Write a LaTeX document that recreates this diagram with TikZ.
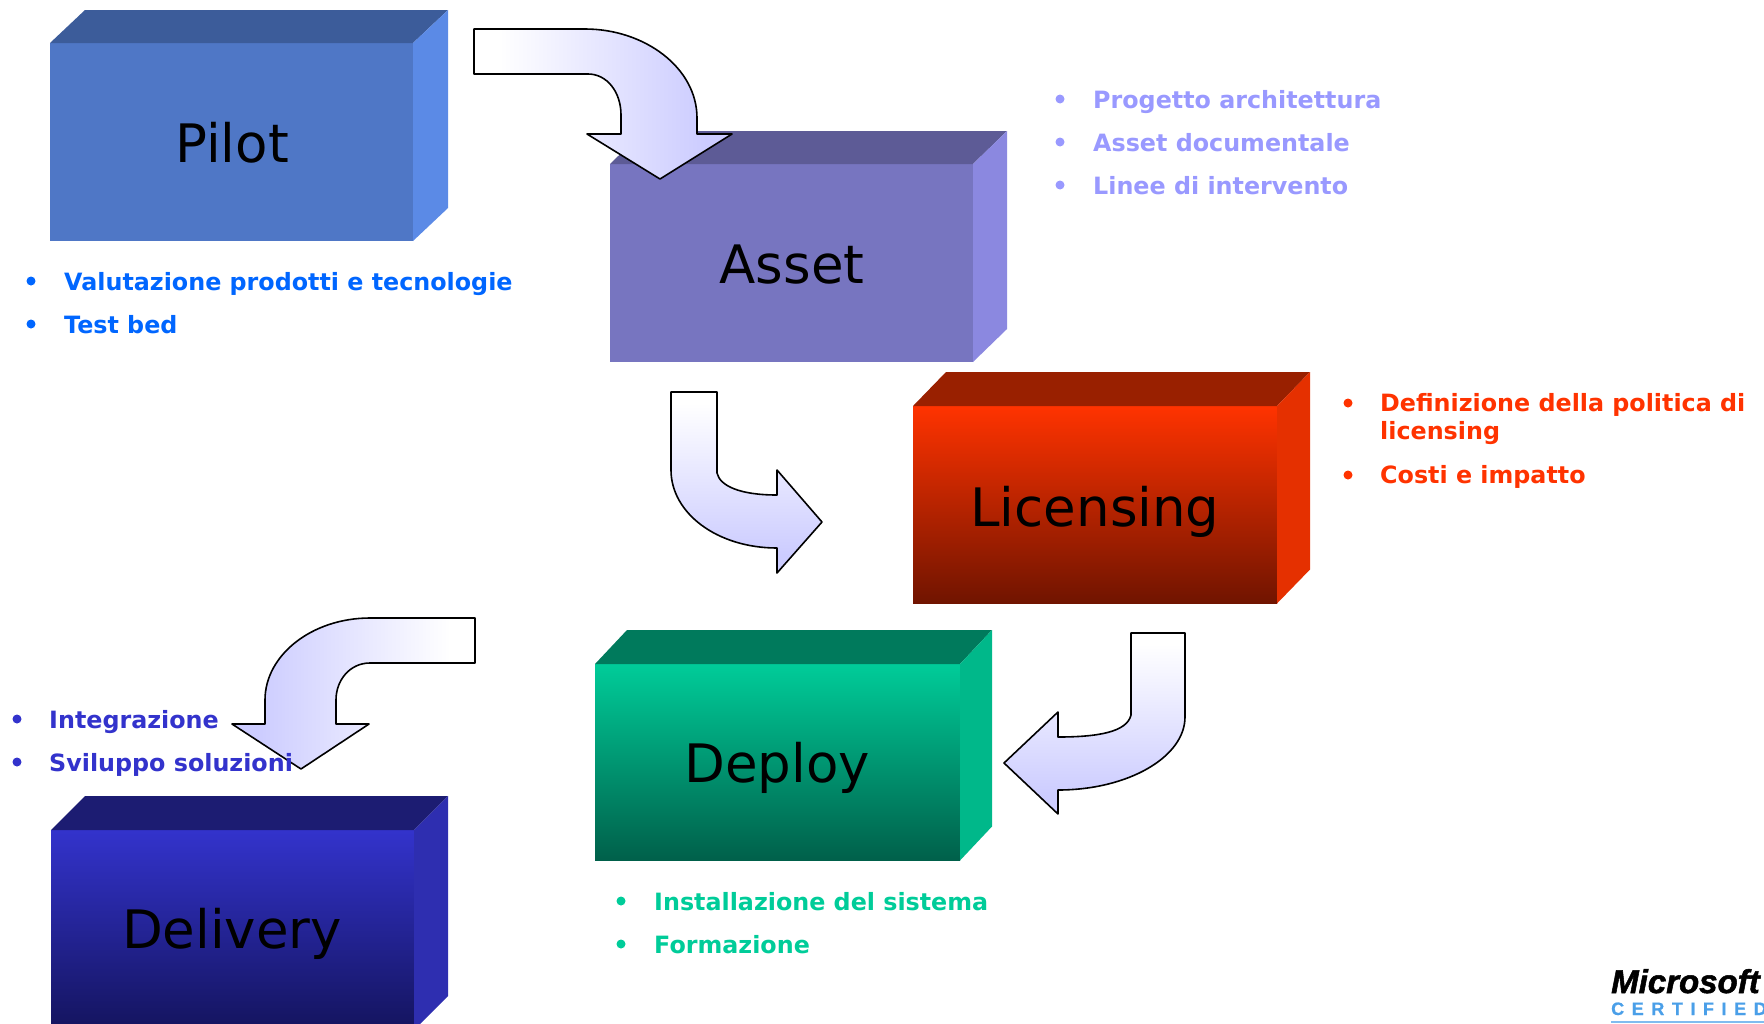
\documentclass[tikz,border=0pt]{standalone}
\usepackage{fontspec}
\setmainfont{DejaVu Sans}
\newfontfamily\logofont{Liberation Sans}
\definecolor{arrowblue}{HTML}{CCCCFF}
\definecolor{cPilot}{HTML}{4F77C6}\definecolor{cPilotT}{HTML}{3C5C9A}\definecolor{cPilotS}{HTML}{5B8AE6}
\definecolor{cAsset}{HTML}{7775C0}\definecolor{cAssetT}{HTML}{5D5B96}\definecolor{cAssetS}{HTML}{8B88E0}
\definecolor{cLicA}{HTML}{FF3300}\definecolor{cLicB}{HTML}{701400}\definecolor{cLicT}{HTML}{992000}\definecolor{cLicS}{HTML}{E53000}
\definecolor{cDepA}{HTML}{00CC99}\definecolor{cDepB}{HTML}{00604A}\definecolor{cDepT}{HTML}{007A5C}\definecolor{cDepS}{HTML}{00B88A}
\definecolor{cDelA}{HTML}{3333CC}\definecolor{cDelB}{HTML}{14145E}\definecolor{cDelT}{HTML}{1C1C72}\definecolor{cDelS}{HTML}{2E2EB0}
\definecolor{tPilot}{HTML}{0066FF}\definecolor{tAsset}{HTML}{9999FF}\definecolor{tLic}{HTML}{FF3300}\definecolor{tDep}{HTML}{00CC99}\definecolor{tDel}{HTML}{3333CC}
\definecolor{logoblue}{HTML}{4A9FE8}
\pgfdeclareverticalshading{arrowv}{100bp}{color(0bp)=(arrowblue);color(30bp)=(arrowblue);color(72bp)=(white);color(100bp)=(white)}
\pgfdeclarehorizontalshading{arrowr}{100bp}{color(0bp)=(white);color(30bp)=(white);color(70bp)=(arrowblue);color(100bp)=(arrowblue)}
\pgfdeclarehorizontalshading{arrowl}{100bp}{color(0bp)=(arrowblue);color(30bp)=(arrowblue);color(70bp)=(white);color(100bp)=(white)}
\tikzset{
  bendarrow/.style={draw=black,line width=1.6pt,line join=round},
  boxlabel/.style={font=\fontsize{53}{60}\selectfont,text=black,inner sep=0pt,anchor=base},
  item/.style={font=\bfseries\fontsize{23.8}{28}\selectfont,inner sep=0pt,anchor=base west,align=left},
  dot/.style={circle,inner sep=0pt,minimum size=9pt},
}
\newcommand{\bluebox}[9]{% x0 y0 x1 y1 ytop xright ; front ; top ; side
  \fill[#7] (#1,#2+0) rectangle (#3,#4);
  \fill[#8] (#1,#2) -- (#1+#6-#3,#5) -- (#6,#5) -- (#3,#2) -- cycle;
  \fill[#9] (#3,#2) -- (#6,#5) -- (#6,#4-#2+#5) -- (#3,#4) -- cycle;
}
\begin{document}
\begin{tikzpicture}[x=1pt,y=-1pt]
\useasboundingbox (0,0) rectangle (1764,1023);
\clip (0,0) rectangle (1764,1023);
% Pilot
\bluebox{50}{43}{413}{241}{10}{448}{cPilot}{cPilotT}{cPilotS}
\node[boxlabel] (pilot) at (232,162) {Pilot};
% Asset
\bluebox{610}{164}{973}{362}{131}{1007}{cAsset}{cAssetT}{cAssetS}
\node[boxlabel] (asset) at (792,283) {Asset};
% Licensing
\bluebox{913}{406}{1277}{603.5}{372}{1310}{top color=cLicA,bottom color=cLicB}{cLicT}{cLicS}
\node[boxlabel] (licensing) at (1095,526) {Licensing};
% Deploy
\bluebox{595}{664}{960}{860.5}{630}{992}{top color=cDepA,bottom color=cDepB}{cDepT}{cDepS}
\node[boxlabel] (deploy) at (777,782) {Deploy};
% Delivery
\bluebox{51}{830}{414}{1030}{796}{448}{top color=cDelA,bottom color=cDelB}{cDelT}{cDelS}
\node[boxlabel] (delivery) at (232,948) {Delivery};
% Bent arrows
\shadedraw[bendarrow,shading=arrowr]
  (474,29) -- (585,29) .. controls (645,29) and (697,68) .. (697,118) -- (697,134) -- (732,134)
  -- (660,179) -- (587,134) -- (621,134) -- (621,115) .. controls (621,92) and (607,74) .. (588,74) -- (474,74) -- cycle;
\shadedraw[bendarrow,shading=arrowv]
  (671,392) -- (717,392) -- (717,473) .. controls (720,486) and (740,495) .. (777,495) -- (777,470) -- (822,522)
  -- (777,573) -- (777,548) .. controls (717,548) and (671,513) .. (671,470) -- cycle;
\shadedraw[bendarrow,shading=arrowv]
  (1131,633) -- (1185,633) -- (1185,717) .. controls (1185,757) and (1128,790) .. (1058,790) -- (1058,814) -- (1004,763)
  -- (1058,712) -- (1058,737) .. controls (1098,737) and (1127,732) .. (1131,715) -- cycle;
\shadedraw[bendarrow,shading=arrowl]
  (475,618) -- (370,618) .. controls (312,618) and (265,655) .. (265,700) -- (265,724) -- (232,724)
  -- (301,769) -- (369,724) -- (336,724) -- (336,700) .. controls (336,680) and (350,663) .. (370,663) -- (475,663) -- cycle;
% Lists
\begin{scope}[every node/.append style={text=tPilot}]
\node[dot,fill=tPilot] (b1) at (31,281) {};
\node[item] (t1) at (64,290) {Valutazione prodotti e tecnologie};
\node[dot,fill=tPilot] (b2) at (31,324) {};
\node[item] (t2) at (64,333) {Test bed};
\end{scope}
\begin{scope}[every node/.append style={text=tAsset}]
\node[dot,fill=tAsset] (b3) at (1060,99) {};
\node[item] (t3) at (1093,108) {Progetto architettura};
\node[dot,fill=tAsset] (b4) at (1060,142) {};
\node[item] (t4) at (1093,151) {Asset documentale};
\node[dot,fill=tAsset] (b5) at (1060,185) {};
\node[item] (t5) at (1093,194) {Linee di intervento};
\end{scope}
\begin{scope}[every node/.append style={text=tLic}]
\node[dot,fill=tLic] (b6) at (1348,403) {};
\node[item] (t6) at (1380,411) {Definizione della politica di};
\node[item] (t6b) at (1380,439) {licensing};
\node[dot,fill=tLic] (b7) at (1348,475) {};
\node[item] (t7) at (1380,483) {Costi e impatto};
\end{scope}
\begin{scope}[every node/.append style={text=tDep}]
\node[dot,fill=tDep] (b8) at (621,901) {};
\node[item] (t8) at (654,910) {Installazione del sistema};
\node[dot,fill=tDep] (b9) at (621,944) {};
\node[item] (t9) at (654,953) {Formazione};
\end{scope}
\begin{scope}[every node/.append style={text=tDel}]
\node[dot,fill=tDel] (b10) at (17,719) {};
\node[item] (t10) at (49,728) {Integrazione};
\node[dot,fill=tDel] (b11) at (17,762) {};
\node[item] (t11) at (49,771) {Sviluppo soluzioni};
\end{scope}
% Logo
\node[inner sep=0pt,anchor=base west,font=\logofont\bfseries\itshape\fontsize{33}{36}\selectfont\addfontfeature{FakeBold=1.6}] (ms) at (1611,993) {Microsoft};
\node[inner sep=0pt,anchor=base west,text=logoblue,font=\logofont\bfseries\fontsize{18}{18}\selectfont\addfontfeature{LetterSpace=42,FakeBold=0.8}] (cert) at (1611,1015) {CERTIFIED};
\fill[logoblue!70] (1611,1021) rectangle (1764,1023);
\end{tikzpicture}
\end{document}
